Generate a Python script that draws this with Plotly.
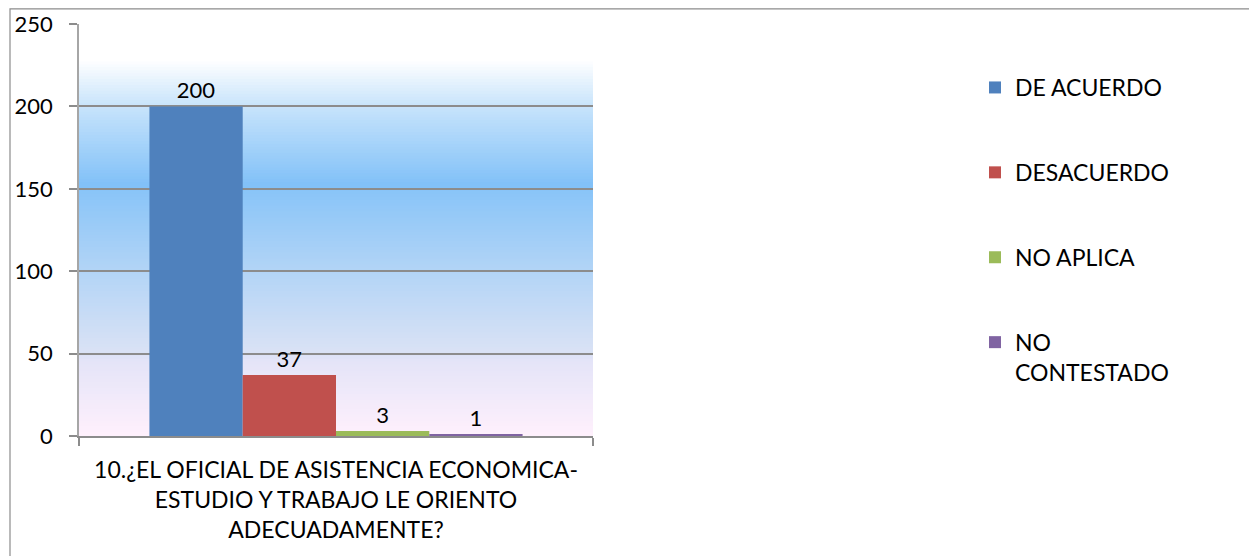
import plotly.graph_objects as go

categories = ["10.¿EL OFICIAL DE ASISTENCIA ECONOMICA-<br>ESTUDIO Y TRABAJO LE ORIENTO<br>ADECUADAMENTE?"]
series_names = ["DE ACUERDO", "DESACUERDO", "NO APLICA", "NO<br>CONTESTADO"]
series_values = [[200], [37], [3], [1]]
y_ticks = [0, 50, 100, 150, 200, 250]

colors = ["#4f81bd", "#c0504d", "#9bbb59", "#8064a2"]
FONT = "Lato"
FS = 23
FSN = 22

OFF = 8  # page body margin
W, H = 1257 - OFF, 556 - OFF
PL, PR, PT, PB = 79 - OFF, 593 - OFF, 24 - OFF, 436 - OFF
ML, MR, MT, MB = PL, W - PR, PT, H - PB

fig = go.Figure()
for name, vals, c in zip(series_names, series_values, colors):
    fig.add_trace(go.Bar(
        x=categories, y=vals, name=name, marker=dict(color=c, line=dict(width=0)),
        texttemplate="%{y}", textposition="outside", cliponaxis=False,
        textfont=dict(family=FONT, size=FSN, color="#000000"),
        legendgroup=name,
    ))

# background gradient (top -> bottom) as stops: (fraction from top, rgb)
stops = [
    (0.00, (255, 255, 255)),
    (0.09, (255, 255, 255)),
    (0.20, (200, 228, 251)),
    (0.395, (128, 192, 248)),
    (0.40, (136, 196, 248)),
    (0.60, (178, 212, 246)),
    (0.80, (218, 226, 245)),
    (0.82, (228, 228, 248)),
    (1.00, (255, 240, 252)),
]

def col_at(f):
    for (f0, c0), (f1, c1) in zip(stops[:-1], stops[1:]):
        if f0 <= f <= f1:
            t = 0 if f1 == f0 else (f - f0) / (f1 - f0)
            return "rgb(%d,%d,%d)" % tuple(round(a + (b - a) * t) for a, b in zip(c0, c1))
    return "rgb(%d,%d,%d)" % stops[-1][1]

shapes = []
N = 140
for i in range(N):
    f0 = i / N
    f1 = (i + 1) / N
    shapes.append(dict(type="rect", xref="x domain", yref="y domain",
                       x0=0, x1=1, y0=1 - f1, y1=1 - f0 + 0.002,
                       fillcolor=col_at((f0 + f1) / 2), line=dict(width=0), layer="below"))

# outer chart border
pw, ph = W - ML - MR, H - MT - MB
shapes.append(dict(type="rect", xref="paper", yref="paper",
                   x0=(2 - ML) / pw, x1=(W + 20 - ML) / pw,
                   y0=-(H + 20 - MT - ph) / ph, y1=1 + (MT - 0.8) / ph,
                   line=dict(color="#8c8c8c", width=1.2), fillcolor="rgba(0,0,0,0)", layer="above"))

fig.update_layout(
    width=W, height=H,
    margin=dict(l=ML, r=MR, t=MT, b=MB, pad=0, autoexpand=False),
    paper_bgcolor="white", plot_bgcolor="white",
    barmode="group", bargap=0.274, bargroupgap=0,
    shapes=shapes,
    font=dict(family=FONT, size=FS, color="#000000"),
    showlegend=True,
    legend=dict(x=(1015 - 40 - OFF - ML) / pw, xanchor="left", y=1 - (58 - MT) / ph, yanchor="top",
                font=dict(family=FONT, size=FS, color="#000000"),
                tracegroupgap=52, valign="top", bgcolor="rgba(0,0,0,0)"),
    xaxis=dict(type="category", automargin=False, showgrid=False, showline=True, linecolor="#8c8c8c", linewidth=1.5,
               ticks="outside", tickson="boundaries", ticklen=8, tickcolor="#8c8c8c", tickwidth=1.5,
               tickfont=dict(family=FONT, size=FS), ticklabelstandoff=13),
    yaxis=dict(range=[0, 250], automargin=False, tickvals=y_ticks, showgrid=True, gridcolor="#8c8c8c", gridwidth=1.8,
               showline=True, linecolor="#a6a6a6", linewidth=1.5, zeroline=False,
               ticks="outside", ticklen=8, tickcolor="#8c8c8c", tickwidth=1.5,
               tickfont=dict(family=FONT, size=FSN), ticklabelstandoff=12),
)

fig.write_html("out.html")
